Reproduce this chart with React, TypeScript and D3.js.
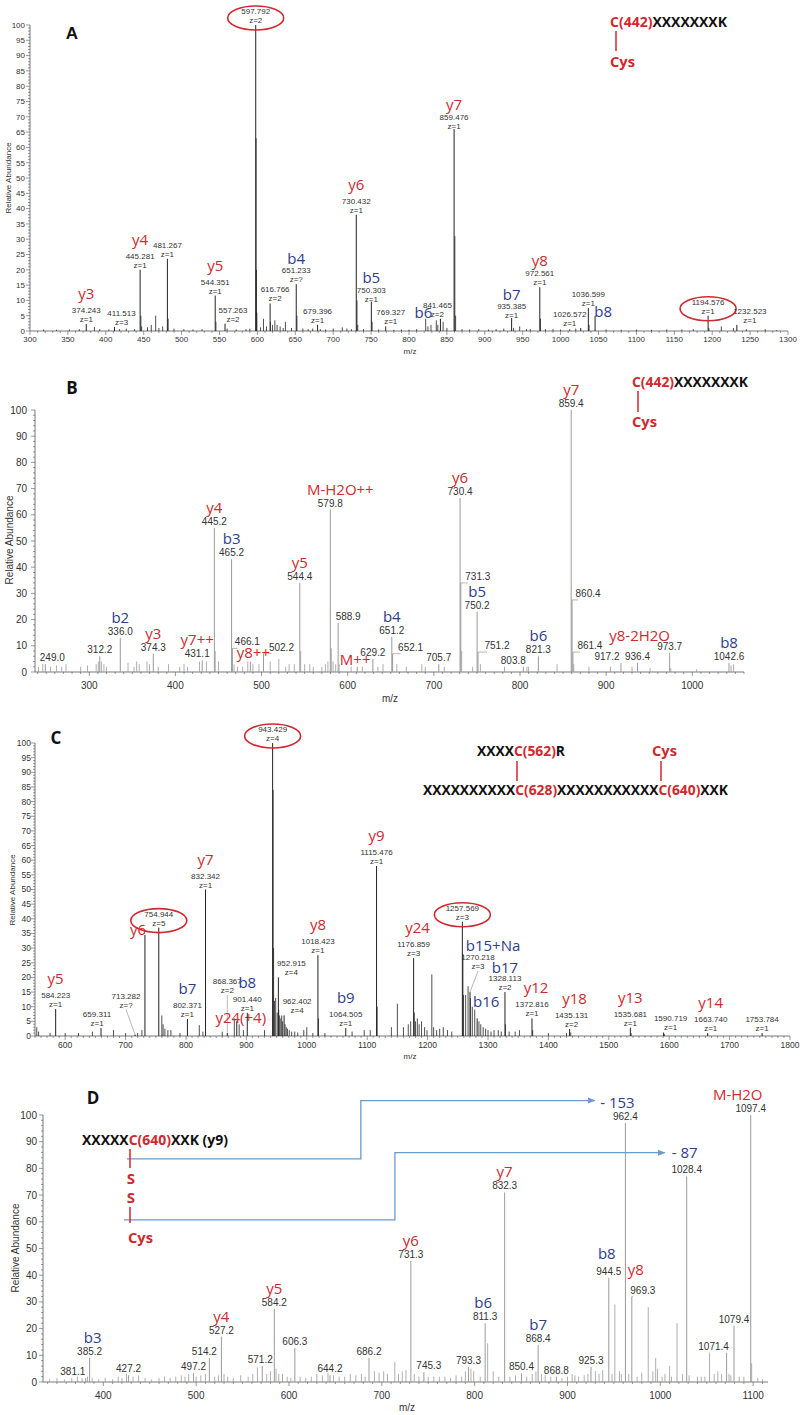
import * as d3 from 'd3';

type Peak = { mz: number; h: number; mass?: string; z?: string; ion?: string };
type Nudge = { dx?: number; dy?: number; idx?: number; idy?: number; hook?: boolean; leader?: boolean; ring?: boolean };

const RED = '#d0292f';
const BLUE = '#2e3d8c';
const ARROW = '#6b9ccb';
const NUM = '#333';
const SANS = "'Liberation Sans', Arial, sans-serif";
const LAB = "'Open Sans', 'Noto Sans', sans-serif";

// ---------- panel A (peptide C(442)XXXXXXXK, MS2) ----------
const peaksA: Peak[] = [
  { mz: 374.243, h: 2.3, mass: '374.243', z: 'z=1', ion: 'y3' },
  { mz: 411.513, h: 1.3, mass: '411.513', z: 'z=3' },
  { mz: 445.281, h: 20, mass: '445.281', z: 'z=1', ion: 'y4' },
  { mz: 481.267, h: 23.6, mass: '481.267', z: 'z=1' },
  { mz: 544.351, h: 11.6, mass: '544.351', z: 'z=1', ion: 'y5' },
  { mz: 557.263, h: 2.4, mass: '557.263', z: 'z=2' },
  { mz: 597.792, h: 100, mass: '597.792', z: 'z=2' },
  { mz: 616.766, h: 9, mass: '616.766', z: 'z=2' },
  { mz: 651.233, h: 15.3, mass: '651.233', z: 'z=?', ion: 'b4' },
  { mz: 679.396, h: 2, mass: '679.396', z: 'z=1' },
  { mz: 730.432, h: 38, mass: '730.432', z: 'z=1', ion: 'y6' },
  { mz: 750.303, h: 9.6, mass: '750.303', z: 'z=1', ion: 'b5' },
  { mz: 769.327, h: 1.5, mass: '769.327', z: 'z=1' },
  { mz: 841.465, h: 4, mass: '841.465', z: 'z=2', ion: 'b6' },
  { mz: 859.476, h: 66, mass: '859.476', z: 'z=1', ion: 'y7' },
  { mz: 935.385, h: 4.2, mass: '935.385', z: 'z=1', ion: 'b7' },
  { mz: 972.561, h: 14.3, mass: '972.561', z: 'z=1', ion: 'y8' },
  { mz: 1026.572, h: 1, mass: '1026.572', z: 'z=1' },
  { mz: 1036.599, h: 7.5, mass: '1036.599', z: 'z=1' },
  { mz: 1045.5, h: 5, ion: 'b8' },
  { mz: 1194.576, h: 5, mass: '1194.576', z: 'z=1' },
  { mz: 1232.523, h: 2, mass: '1232.523', z: 'z=1' },
];
const noiseA: [number, number][] = [
  [318, 0.5], [335, 0.4], [352, 0.5], [365, 0.6], [385, 1.3], [392, 0.6], [404, 0.5], [418, 0.6], [427, 0.8],
  [438, 0.6], [446.3, 5], [447.3, 1.5], [455, 1.2], [460, 2], [465.8, 5], [470, 1], [475, 1.5], [482.3, 4],
  [490, 0.8], [503, 0.6], [515, 0.5], [527, 0.6], [545.3, 3], [560, 0.8], [572, 0.5], [585, 0.6], [590, 0.8],
  [598.3, 63], [598.8, 20], [599.3, 6], [604, 1.2], [608, 4], [612, 1.5], [617.3, 3], [620, 2], [623, 3.5],
  [626, 2], [630, 1.5], [634, 1], [637, 3], [645, 1], [652.2, 5], [660, 0.8], [667, 0.6], [673, 0.8], [683, 0.6],
  [690, 0.5], [700, 0.8], [712, 1.2], [718, 0.8], [724, 0.6], [731.4, 10], [732.4, 2], [740, 0.6], [751.3, 3],
  [760, 0.5], [780, 0.4], [790, 0.5], [800, 0.4], [810, 0.6], [822, 4], [825, 1.5], [829, 2], [836, 3.5],
  [838, 2], [845, 3], [850, 1], [860.5, 31], [861.5, 5], [870, 0.6], [880, 0.5], [892, 0.6], [905, 0.5],
  [915, 0.6], [925, 0.8], [938, 1], [946, 1.5], [955, 0.6], [960, 0.6], [973.5, 4], [980, 0.6], [990, 0.6],
  [1000, 0.5], [1012, 0.6], [1020, 0.8], [1037.6, 2], [1060, 0.5], [1080, 0.4], [1100, 0.5], [1120, 0.4],
  [1140, 0.5], [1160, 0.5], [1175, 0.6], [1195.6, 1], [1212, 1.5], [1228, 1], [1245, 0.6], [1270, 0.6], [1285, 0.3],
];
const nudgeA: Record<string, Nudge> = {
  '411.513': { dx: 7 },
  '557.263': { dx: 8 },
  '597.792': { ring: true },
  '616.766': { dx: 5 },
  '651.233': { idy: 5 },
  '750.303': { dy: 2, idy: 4 },
  '769.327': { dx: 5 },
  '841.465': { dx: -3, idx: -14, idy: 24 },
  '859.476': { dy: 2, idy: 4 },
  '935.385': { dy: 2, idy: 5 },
  '972.561': { idy: 4 },
  '1026.572': { dx: -11 },
  '1045.5': { idx: 8, idy: 5 },
  '1194.576': { ring: true },
  '1232.523': { dx: 13 },
};

// ---------- panel B ----------
const peaksB: Peak[] = [
  { mz: 249.0, h: 3, mass: '249.0' },
  { mz: 312.2, h: 6, mass: '312.2' },
  { mz: 336.0, h: 13, mass: '336.0', ion: 'b2' },
  { mz: 374.3, h: 7, mass: '374.3', ion: 'y3' },
  { mz: 431.1, h: 4.5, mass: '431.1', ion: 'y7++' },
  { mz: 445.2, h: 55, mass: '445.2', ion: 'y4' },
  { mz: 465.2, h: 43, mass: '465.2', ion: 'b3' },
  { mz: 466.1, h: 9, mass: '466.1' },
  { mz: 487, h: 4, ion: 'y8++' },
  { mz: 502.2, h: 7, mass: '502.2' },
  { mz: 544.4, h: 34, mass: '544.4', ion: 'y5' },
  { mz: 579.8, h: 62, mass: '579.8', ion: 'M-H2O++' },
  { mz: 588.9, h: 18.7, mass: '588.9' },
  { mz: 611, h: 2, ion: 'M++' },
  { mz: 629.2, h: 5, mass: '629.2' },
  { mz: 651.2, h: 13.4, mass: '651.2', ion: 'b4' },
  { mz: 652.1, h: 7, mass: '652.1' },
  { mz: 705.7, h: 3, mass: '705.7' },
  { mz: 730.4, h: 66.4, mass: '730.4', ion: 'y6' },
  { mz: 731.3, h: 34, mass: '731.3' },
  { mz: 750.2, h: 23, mass: '750.2', ion: 'b5' },
  { mz: 751.2, h: 7.6, mass: '751.2' },
  { mz: 803.8, h: 2, mass: '803.8' },
  { mz: 821.3, h: 6, mass: '821.3', ion: 'b6' },
  { mz: 859.4, h: 100, mass: '859.4', ion: 'y7' },
  { mz: 860.4, h: 27.5, mass: '860.4' },
  { mz: 861.4, h: 7.6, mass: '861.4' },
  { mz: 917.2, h: 3.4, mass: '917.2' },
  { mz: 936.4, h: 3.5, mass: '936.4' },
  { mz: 973.7, h: 7.3, mass: '973.7', ion: 'y8-2H2O' },
  { mz: 1042.6, h: 3.5, mass: '1042.6', ion: 'b8' },
];
const noiseB: [number, number][] = [
  [241, 2], [246, 3], [255, 2], [262, 2.5], [268, 2], [273, 3], [290, 2], [298, 2.5], [308, 3], [310.5, 4],
  [314, 4], [317, 3], [320, 2], [345, 3.5], [352, 2], [355, 4], [358, 3], [367, 4], [370, 3], [380, 2], [392, 3],
  [405, 2], [410, 3], [414, 2], [428, 4], [436, 4], [446.2, 8], [450, 4], [468, 3], [472, 2], [478, 2], [484, 4],
  [490, 3], [497, 3], [510, 4], [520, 5], [528, 2], [532, 3], [538, 3], [545.4, 8], [550, 3], [556, 3], [560, 2],
  [570, 2], [574, 3], [577, 4], [581, 9], [583, 4], [586, 3], [590, 3], [604, 2], [617, 2], [635, 2], [641, 3],
  [657, 3], [668, 2], [686, 3], [690, 2], [712, 2], [732.3, 8], [745, 2], [754, 3], [782, 2], [808, 2], [810, 2],
  [843, 3], [862.4, 3], [880, 2], [905, 2], [930, 2], [951, 1.5], [975, 1.5], [1005, 1], [1045, 2.5], [1048, 3],
];
const nudgeB: Record<string, Nudge> = {
  '249': { dx: 7 },
  '431.1': { dx: -5 },
  '466.1': { dx: 15, hook: true },
  '487': { idx: 3 },
  '502.2': { dx: 18, hook: true },
  '579.8': { idx: 10 },
  '588.9': { dx: 10, hook: true },
  '611': { idx: -2, idy: 2 },
  '652.1': { dx: 18, hook: true },
  '731.3': { dx: 17, hook: true },
  '751.2': { dx: 19, hook: true },
  '803.8': { dx: -10 },
  '860.4': { dx: 16, hook: true },
  '861.4': { dx: 17, hook: true },
  '917.2': { dx: -14 },
  '973.7': { idx: -30, idy: 3 },
};

// ---------- panel C ----------
const peaksC: Peak[] = [
  { mz: 584.223, h: 9.2, mass: '584.223', z: 'z=1', ion: 'y5' },
  { mz: 659.311, h: 2.7, mass: '659.311', z: 'z=1' },
  { mz: 715.6, h: 0.5, mass: '713.282', z: 'z=?' },
  { mz: 732, h: 34.5, ion: 'y6' },
  { mz: 754.944, h: 37, mass: '754.944', z: 'z=5' },
  { mz: 802.371, h: 5.8, mass: '802.371', z: 'z=1', ion: 'b7' },
  { mz: 832.342, h: 50, mass: '832.342', z: 'z=1', ion: 'y7' },
  { mz: 868.367, h: 1, mass: '868.367', z: 'z=2' },
  { mz: 884, h: 5, ion: 'y24(+4)' },
  { mz: 901.44, h: 7.9, mass: '901.440', z: 'z=1', ion: 'b8' },
  { mz: 943.429, h: 100, mass: '943.429', z: 'z=4' },
  { mz: 952.915, h: 20, mass: '952.915', z: 'z=4' },
  { mz: 962.402, h: 7, mass: '962.402', z: 'z=4' },
  { mz: 1018.423, h: 27.6, mass: '1018.423', z: 'z=1', ion: 'y8' },
  { mz: 1064.505, h: 2.7, mass: '1064.505', z: 'z=1', ion: 'b9' },
  { mz: 1115.476, h: 58, mass: '1115.476', z: 'z=1', ion: 'y9' },
  { mz: 1176.859, h: 26.6, mass: '1176.859', z: 'z=3', ion: 'y24' },
  { mz: 1257.569, h: 39, mass: '1257.569', z: 'z=3' },
  { mz: 1270.218, h: 15, mass: '1270.218', z: 'z=3', ion: 'b15+Na' },
  { mz: 1282, h: 6, ion: 'b16' },
  { mz: 1328.113, h: 15, mass: '1328.113', z: 'z=2', ion: 'b17' },
  { mz: 1372.816, h: 6, mass: '1372.816', z: 'z=1', ion: 'y12' },
  { mz: 1435.131, h: 2.4, mass: '1435.131', z: 'z=2', ion: 'y18' },
  { mz: 1535.681, h: 2.8, mass: '1535.681', z: 'z=1', ion: 'y13' },
  { mz: 1590.719, h: 1.2, mass: '1590.719', z: 'z=1' },
  { mz: 1663.74, h: 1, mass: '1663.740', z: 'z=1', ion: 'y14' },
  { mz: 1753.784, h: 1, mass: '1753.784', z: 'z=1' },
];
const noiseC: [number, number][] = [
  [553, 3], [556, 1.5], [575, 1], [600, 1], [622, 1], [645, 1.5], [680, 2], [700, 1], [720, 1], [727, 2],
  [760, 7], [762, 4], [765, 2.5], [770, 2], [775, 2], [790, 1], [822, 3.7], [828, 1.5], [860, 1.5], [880, 6],
  [888, 4], [895, 2], [930, 2], [944.2, 84], [945, 30], [946.5, 12], [948.5, 13], [951, 8], [953.5, 9], [955, 7],
  [957, 6], [958.5, 7], [960, 5], [964, 4], [966, 3], [968, 2.5], [971, 2], [975, 1.5], [980, 1.5], [985, 1.2],
  [995, 2], [1000, 3], [1010, 1], [1019.4, 6], [1030, 1], [1075, 1.5], [1095, 2], [1105, 2], [1116.5, 10],
  [1140, 3], [1150, 11], [1160, 3], [1168, 4], [1172, 5], [1178, 8], [1180, 5], [1183, 6], [1186, 4], [1190, 5],
  [1195, 3], [1199, 2], [1207, 21], [1210, 3], [1215, 2], [1220, 2.5], [1226, 3], [1233, 2], [1240, 1.5],
  [1258.5, 28], [1259.5, 14], [1263, 14], [1267, 17], [1271, 13], [1274, 10], [1278, 9], [1285, 5], [1288, 4],
  [1292, 3], [1296, 2.5], [1300, 2], [1305, 1.5], [1310, 2], [1317, 2], [1322, 1.5], [1329, 4], [1335, 1.5],
  [1345, 1.5], [1352, 2], [1374, 2], [1400, 1], [1430, 1], [1437, 1.2], [1537, 1], [1592, 0.6],
];
const nudgeC: Record<string, Nudge> = {
  '659.311': { dx: -4 },
  '715.6': { dx: -9, dy: -25, leader: true },
  '732': { idx: -7, idy: 4 },
  '754.944': { ring: true },
  '868.367': { dy: -38, leader: true },
  '884': { idx: 4, idy: 6 },
  '943.429': { ring: true },
  '952.915': { dx: 13, hook: true },
  '962.402': { dx: 13, hook: true },
  '1176.859': { idx: 4 },
  '1257.569': { ring: true },
  '1270.218': { dx: 8, dy: -21, idx: 15, idy: 5, leader: true },
  '1282': { idx: 9, idy: -7 },
  '1328.113': { idy: 6 },
  '1372.816': { idx: 4 },
  '1435.131': { dx: 2, idx: 3 },
  '1590.719': { dx: 7 },
  '1663.74': { dx: 3 },
};

// ---------- panel D (y9 with S-S Cys) ----------
const peaksD: Peak[] = [
  { mz: 381.1, h: 1.5, mass: '381.1' },
  { mz: 385.2, h: 9, mass: '385.2', ion: 'b3' },
  { mz: 427.2, h: 2.5, mass: '427.2' },
  { mz: 497.2, h: 3.3, mass: '497.2' },
  { mz: 514.2, h: 9, mass: '514.2' },
  { mz: 527.2, h: 17, mass: '527.2', ion: 'y4' },
  { mz: 571.2, h: 6, mass: '571.2' },
  { mz: 584.2, h: 27.3, mass: '584.2', ion: 'y5' },
  { mz: 606.3, h: 12.7, mass: '606.3' },
  { mz: 644.2, h: 2.5, mass: '644.2' },
  { mz: 686.2, h: 9, mass: '686.2' },
  { mz: 731.3, h: 45.3, mass: '731.3', ion: 'y6' },
  { mz: 745.3, h: 3.7, mass: '745.3' },
  { mz: 793.3, h: 5.6, mass: '793.3' },
  { mz: 811.3, h: 22, mass: '811.3', ion: 'b6' },
  { mz: 832.3, h: 71, mass: '832.3', ion: 'y7' },
  { mz: 850.4, h: 3.3, mass: '850.4' },
  { mz: 868.4, h: 13.8, mass: '868.4', ion: 'b7' },
  { mz: 888, h: 2, mass: '868.8' },
  { mz: 925.3, h: 5.6, mass: '925.3' },
  { mz: 944.5, h: 39, mass: '944.5', ion: 'b8' },
  { mz: 962.4, h: 97, mass: '962.4', ion: '- 153' },
  { mz: 969.3, h: 32, mass: '969.3', ion: 'y8' },
  { mz: 1028.4, h: 77, mass: '1028.4', ion: '- 87' },
  { mz: 1071.4, h: 11, mass: '1071.4' },
  { mz: 1079.4, h: 21, mass: '1079.4' },
  { mz: 1097.4, h: 100, mass: '1097.4', ion: 'M-H2O' },
];
const noiseD: [number, number][] = [
  [342, 1], [350, 1.5], [358, 1], [366, 1.5], [372, 2], [377, 1.5], [383, 2], [388, 1.5], [395, 1], [402, 1.5],
  [410, 1], [416, 2], [420, 1.5], [425, 3], [432, 2], [438, 2.5], [445, 1.5], [452, 1], [460, 1.5], [466, 2],
  [472, 1.5], [478, 2], [484, 2.5], [488, 2], [492, 3], [500, 2], [505, 2.5], [510, 3], [520, 2], [524, 2.5],
  [530, 3], [534, 2], [540, 1.5], [548, 2.5], [556, 2], [561, 3], [566, 5.5], [576, 3], [580, 4], [586, 5],
  [589, 3], [593, 3], [598, 2], [602, 1.5], [612, 2], [618, 1.5], [624, 2], [630, 3], [636, 2.5], [642, 3.5],
  [648, 2.5], [654, 2], [660, 2], [666, 3], [672, 2.5], [678, 3], [682, 2], [692, 4], [697, 3.5], [702, 4],
  [706, 3], [714, 7.5], [718, 3], [722, 4], [726, 4.5], [735, 3], [740, 2], [750, 2], [756, 2], [762, 2],
  [768, 2], [774, 1.5], [780, 2.5], [786, 2], [790, 4], [796, 5], [799, 4], [806, 2], [814, 14.5], [820, 4],
  [826, 2], [838, 2], [844, 2.5], [856, 2], [862, 3], [866, 4], [872, 3], [876, 2.5], [882, 2], [894, 1.5],
  [900, 2], [905, 3], [908, 2.5], [912, 2], [918, 2.5], [922, 3], [930, 4], [934, 3], [938, 4.5], [948, 3],
  [951, 29], [956, 4], [958, 3], [966, 3], [975, 2], [980, 3.5], [987, 28], [992, 4], [995, 9], [997, 5],
  [1002, 2], [1005, 3], [1010, 6], [1012, 2], [1018, 22], [1024, 3], [1031, 2.5], [1040, 2], [1044, 2],
  [1048, 2], [1053, 11], [1058, 3], [1062, 4], [1066, 3], [1074, 3], [1076, 2.5], [1085, 2], [1090, 2],
  [1098.4, 7], [1105, 1.5], [1110, 1],
];
const nudgeD: Record<string, Nudge> = {
  '381.1': { dx: -13 },
  '385.2': { idx: 3 },
  '514.2': { dx: -5 },
  '571.2': { dx: -2 },
  '745.3': { dx: 5 },
  '811.3': { idx: -2 },
  '944.5': { idx: -2, idy: -4 },
  '962.4': { idx: -8 },
  '969.3': { dx: 11, idx: -7, idy: -7, hook: true },
  '1028.4': { idx: -2, idy: -3 },
  '1071.4': { dx: -13 },
  '1097.4': { idx: -13 },
};
// disulfide loss arrows, in (m/z, relative abundance) units
const arrow153: [number, number][] = [[425.5, 83.6], [677.4, 83.6], [677.4, 105.4], [929.4, 105.4]];
const arrow87: [number, number][] = [[422.2, 60.7], [714.1, 60.7], [714.1, 85.9], [1004.8, 85.9]];

interface Panel {
  letter: string; lx: number; ly: number; letterFont: string;
  x0: number; x1: number; yTop: number; yBot: number; domain: [number, number];
  yMajor: number; yMinor: number; xMajor: number; xMinor: number;
  tickFont: number; xLabelDy: number; yLabelDx: number;
  massFont: number; twoLine: boolean; stroke: string; sw: number;
  titleX: number; titleY: number; mzX: number; mzY: number; titleFont: number;
  peaks: Peak[]; noise: [number, number][]; nudge: Record<string, Nudge>;
}

const panels: Panel[] = [
  { letter: 'A', lx: 72, ly: 39, letterFont: SANS, x0: 30, x1: 788, yTop: 25, yBot: 331, domain: [300, 1300],
    yMajor: 5, yMinor: 1, xMajor: 50, xMinor: 10, tickFont: 8, xLabelDy: 11, yLabelDx: 4, massFont: 8,
    twoLine: true, stroke: '#222', sw: 1, titleX: 8, titleY: 178, mzX: 410, mzY: 354, titleFont: 8,
    peaks: peaksA, noise: noiseA, nudge: nudgeA },
  { letter: 'B', lx: 72, ly: 394, letterFont: LAB, x0: 35, x1: 744, yTop: 410, yBot: 672, domain: [237, 1060],
    yMajor: 10, yMinor: 2, xMajor: 100, xMinor: 10, tickFont: 10, xLabelDy: 17, yLabelDx: 7, massFont: 10,
    twoLine: false, stroke: '#9a9a9a', sw: 1, titleX: 9, titleY: 540, mzX: 390, mzY: 702, titleFont: 10,
    peaks: peaksB, noise: noiseB, nudge: nudgeB },
  { letter: 'C', lx: 56, ly: 744, letterFont: LAB, x0: 35, x1: 790, yTop: 743, yBot: 1036, domain: [550, 1800],
    yMajor: 5, yMinor: 1, xMajor: 100, xMinor: 10, tickFont: 8.5, xLabelDy: 12, yLabelDx: 3, massFont: 8,
    twoLine: true, stroke: '#222', sw: 1, titleX: 12, titleY: 890, mzX: 410, mzY: 1059, titleFont: 8,
    peaks: peaksC, noise: noiseC, nudge: nudgeC },
  { letter: 'D', lx: 93, ly: 1104, letterFont: LAB, x0: 43, x1: 768, yTop: 1115, yBot: 1382, domain: [335, 1116],
    yMajor: 10, yMinor: 2, xMajor: 100, xMinor: 10, tickFont: 10, xLabelDy: 17, yLabelDx: 5, massFont: 10,
    twoLine: false, stroke: '#9a9a9a', sw: 1, titleX: 15, titleY: 1248, mzX: 407, mzY: 1411, titleFont: 10,
    peaks: peaksD, noise: noiseD, nudge: nudgeD },
];

const isMul = (v: number, s: number) => Math.abs(v / s - Math.round(v / s)) < 1e-6;
const ionColor = (s: string) => (s[0] === 'b' || s[0] === '-' ? BLUE : RED);

function Spectrum({ p, children }: { p: Panel; children?: (x: d3.ScaleLinear<number, number>, y: d3.ScaleLinear<number, number>) => any }) {
  const x = d3.scaleLinear().domain(p.domain).range([p.x0, p.x1]);
  const y = d3.scaleLinear().domain([0, 100]).range([p.yBot, p.yTop]);
  const yTicks = d3.range(0, 100 + 1e-9, p.yMinor);
  const xTicks = d3.range(Math.ceil(p.domain[0] / p.xMinor) * p.xMinor, p.domain[1] + 1e-9, p.xMinor);
  const axis = '#555';
  const massBase = p.twoLine ? -11 : -3;
  const ionBase = p.twoLine ? -25 : -15;

  return (
    <g>
      <text x={p.lx} y={p.ly} fontFamily={p.letterFont} fontWeight="bold" fontSize={17} textAnchor="middle" fill="#111">{p.letter}</text>
      {/* y axis */}
      <line x1={p.x0} x2={p.x0} y1={p.yBot} y2={p.yTop} stroke={axis} strokeWidth={0.8} />
      {yTicks.map((v) => {
        const major = isMul(v, p.yMajor);
        return (
          <g key={'y' + v}>
            <line x1={p.x0 - (major ? 4 : 2)} x2={p.x0} y1={y(v)} y2={y(v)} stroke={axis} strokeWidth={0.6} />
            {major && (
              <text x={p.x0 - p.yLabelDx - 1} y={y(v)} dy="0.35em" textAnchor="end" fontFamily={SANS} fontSize={p.tickFont} fill={NUM}>{Math.round(v)}</text>
            )}
          </g>
        );
      })}
      <text transform={`translate(${p.titleX},${p.titleY}) rotate(-90)`} dy="0.35em" textAnchor="middle" fontFamily={SANS} fontSize={p.titleFont} fill={NUM}>Relative Abundance</text>
      {/* x axis */}
      <line x1={p.x0} x2={p.x1} y1={p.yBot} y2={p.yBot} stroke={axis} strokeWidth={0.8} />
      {xTicks.map((v) => {
        const major = isMul(v, p.xMajor);
        return (
          <g key={'x' + v}>
            <line x1={x(v)} x2={x(v)} y1={p.yBot} y2={p.yBot + (major ? 4 : 2)} stroke={axis} strokeWidth={0.6} />
            {major && (
              <text x={x(v)} y={p.yBot + p.xLabelDy} textAnchor="middle" fontFamily={SANS} fontSize={p.tickFont} fill={NUM}>{Math.round(v)}</text>
            )}
          </g>
        );
      })}
      <text x={p.mzX} y={p.mzY} textAnchor="middle" fontFamily={SANS} fontSize={p.titleFont} fill={NUM}>m/z</text>
      {/* noise peaks */}
      {p.noise.map(([mz, h], i) => (
        <line key={'n' + i} x1={x(mz)} x2={x(mz)} y1={p.yBot} y2={y(h)} stroke={p.stroke} strokeWidth={p.sw * 0.8} />
      ))}
      {/* labelled peaks */}
      {p.peaks.map((pk, i) => {
        const px = x(pk.mz);
        const top = y(pk.h);
        const n = p.nudge[String(pk.mz)] || {};
        const dx = n.dx || 0;
        const dy = n.dy || 0;
        const lx = px + dx;
        const mb = top + massBase + dy;
        const ib = pk.mass ? top + ionBase + dy + (n.idy || 0) : top - 4 + dy + (n.idy || 0);
        return (
          <g key={'p' + i}>
            <line x1={px} x2={px} y1={p.yBot} y2={top} stroke={p.stroke} strokeWidth={p.sw} />
            {n.hook && <line x1={px} x2={lx - (p.twoLine ? 12 : 10)} y1={top} y2={top} stroke="#999" strokeWidth={0.7} />}
            {n.leader && <line x1={lx} x2={px} y1={mb + (pk.z ? 11 : 2)} y2={top} stroke="#999" strokeWidth={0.7} />}
            {pk.mass && (
              <text x={lx} y={mb} textAnchor="middle" fontFamily={SANS} fontSize={p.massFont} fill={NUM}>{pk.mass}</text>
            )}
            {pk.z && (
              <text x={lx} y={mb + 9} textAnchor="middle" fontFamily={SANS} fontSize={p.massFont} fill={NUM}>{pk.z}</text>
            )}
            {n.ring && <ellipse cx={lx} cy={mb + 4} rx={28} ry={12} fill="none" stroke={RED} strokeWidth={1.6} />}
            {pk.ion && (
              <text x={lx + (n.idx || 0)} y={ib} textAnchor="middle" fontFamily={LAB} fontSize={15} fill={ionColor(pk.ion)}>{pk.ion}</text>
            )}
          </g>
        );
      })}
      {children && children(x, y)}
    </g>
  );
}

const seqFont = { fontFamily: LAB, fontWeight: 700, fontSize: 15 } as const;
const fit = (w: number) => ({ textLength: w, lengthAdjust: 'spacingAndGlyphs' as const });

export default function App() {
  return (
    <svg width={800} height={1415} style={{ position: 'absolute', left: 0, top: 0, background: '#fff' }}>
      <defs>
        <marker id="ah" viewBox="0 0 10 10" refX="9" refY="5" markerWidth="6" markerHeight="6" orient="auto">
          <path d="M0,1 L10,5 L0,9 z" fill={ARROW} />
        </marker>
      </defs>

      <Spectrum p={panels[0]} />
      <g {...seqFont}>
        <text x={610} y={27} {...fit(117)}><tspan fill={RED}>C(442)</tspan><tspan fill="#111">XXXXXXXK</tspan></text>
        <line x1={616} x2={616} y1={31} y2={51} stroke={RED} strokeWidth={1.5} />
        <text x={610} y={67} fill={RED} {...fit(25)}>Cys</text>
      </g>

      <Spectrum p={panels[1]} />
      <g {...seqFont}>
        <text x={632} y={387} {...fit(116)}><tspan fill={RED}>C(442)</tspan><tspan fill="#111">XXXXXXXK</tspan></text>
        <line x1={638} x2={638} y1={391} y2={412} stroke={RED} strokeWidth={1.5} />
        <text x={632} y={427} fill={RED} {...fit(25)}>Cys</text>
      </g>

      <Spectrum p={panels[2]} />
      <g {...seqFont}>
        <text x={477} y={756} {...fit(88)}><tspan fill="#111">XXXX</tspan><tspan fill={RED}>C(562)</tspan><tspan fill="#111">R</tspan></text>
        <text x={652} y={756} fill={RED} {...fit(25)}>Cys</text>
        <line x1={517} x2={517} y1={761} y2={781} stroke={RED} strokeWidth={1.5} />
        <line x1={661} x2={661} y1={761} y2={781} stroke={RED} strokeWidth={1.5} />
        <text x={423} y={795} {...fit(305)}>
          <tspan fill="#111">XXXXXXXXXX</tspan><tspan fill={RED}>C(628)</tspan><tspan fill="#111">XXXXXXXXXXX</tspan><tspan fill={RED}>C(640)</tspan><tspan fill="#111">XXK</tspan>
        </text>
      </g>

      <Spectrum p={panels[3]}>
        {(x, y) => (
          <g>
            {[arrow153, arrow87].map((pts, i) => (
              <path key={i} d={d3.line()(pts.map(([m, v]) => [x(m), y(v)]) as [number, number][]) || ''} fill="none" stroke={ARROW} strokeWidth={1.3} markerEnd="url(#ah)" />
            ))}
          </g>
        )}
      </Spectrum>
      <g {...seqFont}>
        <text x={82} y={1145} {...fit(146)}><tspan fill="#111">XXXXX</tspan><tspan fill={RED}>C(640)</tspan><tspan fill="#111">XXK (y9)</tspan></text>
        <line x1={130} x2={130} y1={1149} y2={1168} stroke={RED} strokeWidth={1.5} />
        <text x={131} y={1184} fill={RED} textAnchor="middle">S</text>
        <text x={131} y={1203} fill={RED} textAnchor="middle">S</text>
        <line x1={130} x2={130} y1={1207} y2={1223} stroke={RED} strokeWidth={1.5} />
        <text x={128} y={1243} fill={RED} {...fit(25)}>Cys</text>
      </g>
    </svg>
  );
}
